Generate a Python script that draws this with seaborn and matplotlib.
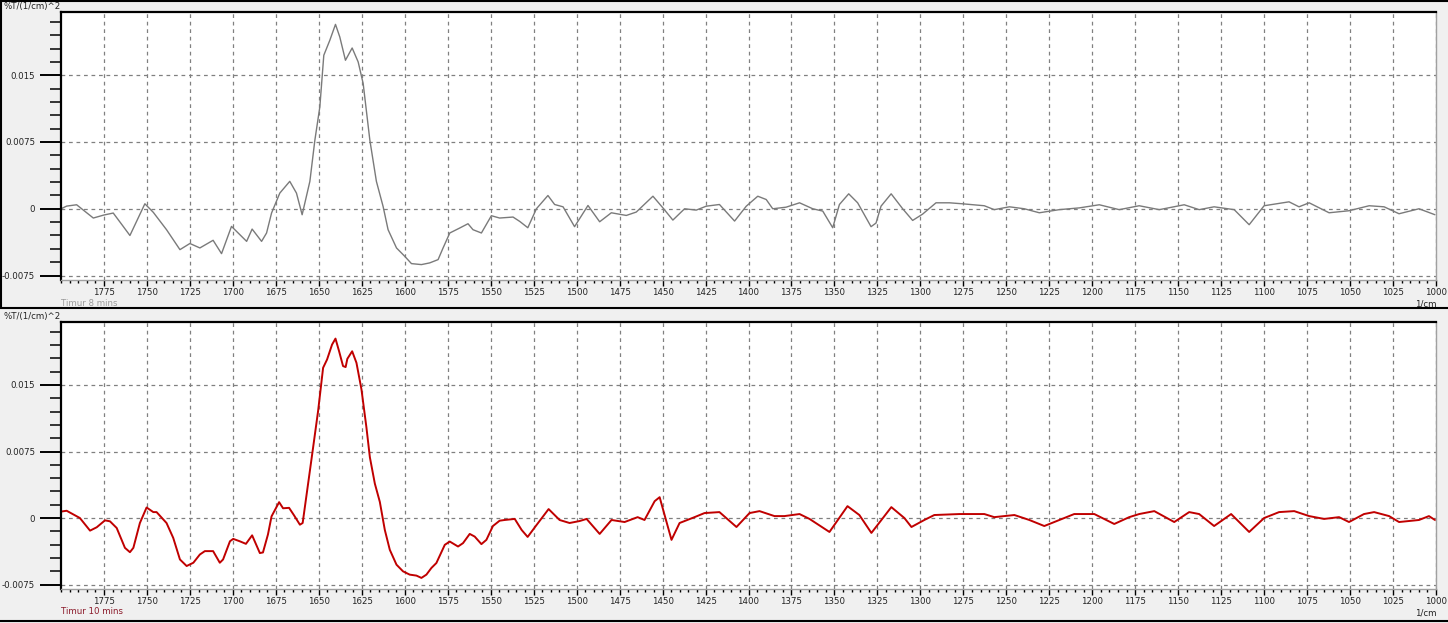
import matplotlib
matplotlib.use("Agg")
import matplotlib.pyplot as plt
from matplotlib.lines import Line2D
from matplotlib.ticker import MultipleLocator, FixedLocator
import pandas as pd
import seaborn as sns

# wavenumber (1/cm) and second-derivative values
top_wn = [1800, 1796.7, 1790.9, 1781.2, 1775, 1769.6, 1764.5, 1759.9, 1751.2, 1746.3,
          1738.6, 1730.8, 1725, 1719.2, 1711.5, 1706.6, 1700.8, 1692.0, 1688.8, 1683.3,
          1680.4, 1677.5, 1672.7, 1666.9, 1663.0, 1659.7, 1655.2, 1652.3, 1649.4, 1647.1,
          1643.6, 1640.3, 1637.8, 1634.5, 1630.6, 1627.1, 1624.2, 1620.3, 1616.5, 1612.6,
          1609.7, 1604.8, 1600, 1596.1, 1590.3, 1585.5, 1580.6, 1577.7, 1573.8, 1568.0,
          1563.2, 1560.3, 1555.4, 1549.6, 1544.8, 1537.0, 1533.1, 1528.4, 1523.4, 1516.7,
          1512.8, 1507.9, 1501.2, 1493.4, 1486.6, 1479.8, 1471.1, 1465.3, 1455.6, 1449.8,
          1444.0, 1437.2, 1430.4, 1424.6, 1416.9, 1408.1, 1401.3, 1394.6, 1389.7, 1385.9,
          1378.1, 1370.3, 1362.6, 1356.8, 1351.0, 1347.1, 1341.7, 1336.5, 1328.7, 1325.8,
          1322.9, 1317.0, 1310.3, 1304.5, 1298.7, 1290.9, 1283.1, 1275.6, 1262.8, 1257.0,
          1248.2, 1239.5, 1230.8, 1219.2, 1207.5, 1195.9, 1184.3, 1172.7, 1161.0, 1146.5,
          1137.8, 1129.1, 1117.4, 1108.7, 1100.0, 1085.5, 1079.7, 1073.8, 1062.2, 1050.6,
          1038.9, 1030.2, 1021.5, 1009.9, 1000.6]
top_val = [0.0, 0.0003, 0.00045, -0.00104, -0.0007, -0.00048, -0.0018, -0.0030, 0.00056, -0.0004,
           -0.00235, -0.00459, -0.0039, -0.0044, -0.00354, -0.00504, -0.00198, -0.00366, -0.00228, -0.00366,
           -0.00272, -0.00048, 0.00176, 0.00308, 0.00176, -0.00067, 0.00308, 0.0077, 0.01145, 0.01724,
           0.01892, 0.02071, 0.0193, 0.01668, 0.01806, 0.01649, 0.01407, 0.0077, 0.00308, 0.00026,
           -0.00235, -0.0044, -0.00534, -0.00616, -0.00627, -0.00608, -0.00571, -0.0044, -0.00272, -0.00216,
           -0.00168, -0.00235, -0.00272, -0.00078, -0.00104, -0.00093, -0.00142, -0.00213, 0.0, 0.00149,
           0.00048, 0.00022, -0.00201, 0.00037, -0.00146, -0.00045, -0.00075, -0.00037, 0.00141, 0.0001,
           -0.00127, 0.0, -0.00015, 0.00029, 0.00048, -0.00138, 0.00029, 0.00141, 0.00104, 0.0,
           0.00018, 0.00067, 0.0, -0.00026, -0.00213, 0.00048, 0.00168, 0.00067, -0.00201, -0.0016,
           0.00029, 0.00168, 0.0, -0.00131, -0.0006, 0.00067, 0.00067, 0.00056, 0.00034, -0.0001,
           0.00022, 0.0, -0.00045, -0.0001, 0.0001, 0.00045, -0.0001, 0.00034, -0.0001, 0.00045,
           -0.0001, 0.00022, -0.0001, -0.00179, 0.00034, 0.00078, 0.00022, 0.00067, -0.00045, -0.00022,
           0.00034, 0.00022, -0.00056, 0.0, -0.00067]

bot_wn = [1799.6, 1796.7, 1792.8, 1789, 1783.1, 1779.2, 1774.4, 1771.5, 1767.6, 1762.8,
          1759.9, 1757.9, 1754.1, 1750.2, 1746.3, 1744.4, 1738.6, 1734.7, 1730.8, 1726.9,
          1723.0, 1719.2, 1716.3, 1711.5, 1707.6, 1705.7, 1701.7, 1699.8, 1696.0, 1692.4,
          1688.8, 1684.3, 1682.5, 1679.6, 1677.5, 1673.1, 1670.8, 1667.3, 1664.4, 1661.0,
          1659.4, 1656.2, 1653.3, 1650.4, 1647.5, 1645.2, 1642.3, 1640.3, 1638.2, 1635.9,
          1634.4, 1633.4, 1630.6, 1628.1, 1625.2, 1622.3, 1620.3, 1617.4, 1614.5, 1611.6,
          1608.7, 1604.8, 1601.0, 1597.1, 1593.2, 1590.3, 1587.4, 1584.5, 1581.6, 1576.7,
          1573.8, 1569.0, 1566.1, 1562.2, 1559.3, 1555.4, 1552.5, 1548.7, 1544.8, 1541.9,
          1536.0, 1532.0, 1528.5, 1523.3, 1516.3, 1509.9, 1504.1, 1498.3, 1494.2, 1486.6,
          1479.7, 1472.1, 1464.5, 1460.5, 1454.6, 1451.7, 1444.8, 1440.1, 1431.4, 1425.6,
          1416.9, 1407.0, 1399.4, 1393.6, 1384.9, 1379.1, 1370.3, 1364.5, 1352.9, 1342.4,
          1335.5, 1328.5, 1316.9, 1309.3, 1305.2, 1297.7, 1291.9, 1277.3, 1262.8, 1257.0,
          1245.3, 1236.6, 1227.9, 1219.2, 1210.5, 1198.8, 1187.2, 1178.5, 1172.7, 1163.9,
          1152.3, 1143.6, 1137.8, 1129.1, 1119.2, 1108.7, 1100.0, 1091.3, 1082.5, 1073.8,
          1065.1, 1056.4, 1050.6, 1041.9, 1036.0, 1027.3, 1021.5, 1009.9, 1004.1, 1000.6]
bot_val = [0.00074, 0.00082, 0.00041, 0.0, -0.00142, -0.00104, -0.00026, -0.00037, -0.00112, -0.00336,
           -0.00385, -0.00336, -0.00056, 0.00119, 0.00067, 0.00067, -0.00056, -0.00224, -0.00467, -0.00541,
           -0.00504, -0.00411, -0.00373, -0.00373, -0.00504, -0.00467, -0.00262, -0.00235, -0.00262, -0.00291,
           -0.00195, -0.00395, -0.00388, -0.00186, 0.00019, 0.00179, 0.0011, 0.00115, 0.0003, -0.00075,
           -0.00056, 0.00388, 0.00798, 0.01209, 0.01694, 0.01787, 0.01955, 0.02023, 0.0188, 0.01713,
           0.01702, 0.01795, 0.0188, 0.0175, 0.01452, 0.01022, 0.00686, 0.00388, 0.00182, -0.00134,
           -0.00358, -0.00526, -0.00601, -0.00638, -0.00649, -0.00675, -0.00638, -0.00563, -0.00507, -0.00302,
           -0.00265, -0.00321, -0.00283, -0.00179, -0.00209, -0.00294, -0.00246, -0.0009, -0.0003, -0.00022,
           -0.0001, -0.00134, -0.00213, -0.00078, 0.00101, -0.00022, -0.00056, -0.00034, -0.0001, -0.00179,
           -0.00022, -0.00045, 0.0001, -0.00022, 0.0019, 0.00235, -0.00246, -0.00056, 0.0001, 0.00056,
           0.00067, -0.00101, 0.00056, 0.00078, 0.00022, 0.00022, 0.00045, -0.0001, -0.00157, 0.00134,
           0.00034, -0.00168, 0.00123, 0.0, -0.00101, -0.00022, 0.00034, 0.00045, 0.00045, 0.0001,
           0.00034, -0.00022, -0.0009, -0.00022, 0.00045, 0.00045, -0.00067, 0.0001, 0.00045, 0.00078,
           -0.00045, 0.00067, 0.00045, -0.0009, 0.00045, -0.00157, 0.0, 0.00067, 0.00078, 0.00022,
           -0.0001, 0.0001, -0.00045, 0.00045, 0.00067, 0.00022, -0.00045, -0.00022, 0.00022, -0.00022]

x_major = list(range(1775, 999, -25))
y_major = [-0.0075, 0.0, 0.0075, 0.015]
y_labels = ["-0.0075", "0", "0.0075", "0.015"]

sns.set_theme(style="white")
plt.rcParams["font.family"] = ["DejaVu Sans"]

W, H = 1448, 623
FS = 6.2
fig = plt.figure(figsize=(W / 100, H / 100), dpi=100, facecolor="#f0f0f0")


def fx(px):
    return px / W


def fy(py):
    return 1 - py / H


def style_axis(ax):
    ax.set_facecolor("white")
    ax.set_xlim(1800, 1000)
    ax.set_ylim(-0.0080, 0.0221)
    ax.xaxis.set_major_locator(FixedLocator(x_major))
    ax.xaxis.set_minor_locator(MultipleLocator(5))
    ax.set_xticklabels([str(v) for v in x_major])
    ax.yaxis.set_major_locator(FixedLocator(y_major))
    ax.set_yticklabels(y_labels)
    ax.yaxis.set_minor_locator(MultipleLocator(0.0015))
    ax.grid(True, which="major", color="#808080", linestyle=(0, (3, 3)), linewidth=0.9)
    ax.tick_params(axis="y", which="major", direction="out", length=15, width=1.4,
                   color="black", pad=3.5, labelsize=FS, labelcolor="#222222", left=True)
    ax.tick_params(axis="y", which="minor", direction="out", length=8, width=1.1,
                   color="black", left=True)
    ax.tick_params(axis="x", which="major", direction="out", length=4, width=1,
                   color="black", pad=1.5, labelsize=FS, labelcolor="#222222", bottom=True)
    ax.tick_params(axis="x", which="minor", direction="out", length=2, width=1,
                   color="black", bottom=True)
    ax.set_xlabel("")
    ax.set_ylabel("")
    for side in ["left", "top"]:
        ax.spines[side].set_color("black")
        ax.spines[side].set_linewidth(1.6)
    for side in ["right", "bottom"]:
        ax.spines[side].set_color("#a0a0a0")
        ax.spines[side].set_linewidth(1.0)


ax1 = fig.add_axes([fx(61), fy(280), fx(1436 - 61), (280 - 12) / H])
ax2 = fig.add_axes([fx(61), fy(589), fx(1436 - 61), (589 - 322) / H])

top_df = pd.DataFrame({"wn": top_wn, "val": top_val})
bot_df = pd.DataFrame({"wn": bot_wn, "val": bot_val})

sns.lineplot(data=top_df, x="wn", y="val", ax=ax1, color="#7a7a7a", linewidth=1.0,
             sort=False, estimator=None)
sns.lineplot(data=bot_df, x="wn", y="val", ax=ax2, color="#c00000", linewidth=1.4,
             sort=False, estimator=None)
style_axis(ax1)
style_axis(ax2)

# panel captions
fig.text(fx(4), fy(7), "%T/(1/cm)^2", fontsize=FS, color="#222222", va="center", ha="left")
fig.text(fx(4), fy(316), "%T/(1/cm)^2", fontsize=FS, color="#222222", va="center", ha="left")
fig.text(fx(1437), fy(304), "1/cm", fontsize=FS, color="#222222", va="center", ha="right")
fig.text(fx(1437), fy(613), "1/cm", fontsize=FS, color="#222222", va="center", ha="right")
fig.text(fx(61), fy(303), "Timur 8 mins", fontsize=FS, color="#9a9a9a", va="center", ha="left")
fig.text(fx(61), fy(612), "Timur 10 mins", fontsize=FS, color="#8b1a2a", va="center", ha="left")

# window frame lines
for py in [1, 308, 621]:
    fig.add_artist(Line2D([0, 1], [fy(py), fy(py)], transform=fig.transFigure,
                          color="black", linewidth=1.5))
fig.add_artist(Line2D([fx(1), fx(1)], [fy(0), fy(308)], transform=fig.transFigure,
                      color="black", linewidth=1.5))

fig.savefig("out.png", dpi=100, facecolor=fig.get_facecolor())
